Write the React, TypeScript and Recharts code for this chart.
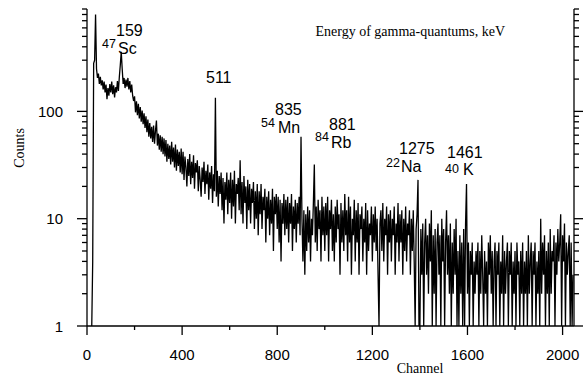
import React from 'react'
import { LineChart, Line, XAxis, YAxis } from 'recharts'

// gamma spectrum, counts every 4 channels
const STEP = 4
const START_A = 20
const COUNTS_A = [
  1, 4, 280, 300, 800, 250, 205, 225, 180, 210,
  175, 195, 160, 190, 150, 178, 130, 165, 140, 180,
  150, 190, 145, 175, 135, 168, 150, 192, 155, 210,
  270, 360, 250, 180, 205, 165, 198, 170, 205, 160,
  192, 150, 178, 140, 125,
]
const START_B = 200
const COUNTS_B = [
  138, 98, 124, 92, 118, 86, 110, 80, 102, 76,
  96, 70, 90, 64, 84, 58, 78, 56, 72, 52,
  74, 50, 66, 82, 48, 62, 44, 60, 42, 58,
  40, 56, 38, 54, 34, 50, 36, 48, 32, 52,
  34, 46, 30, 49, 28, 44, 31, 42, 27, 45,
]
const START_C = 400
const COUNTS_C = [
  26, 42, 23, 38, 30, 20, 36, 25, 40, 21,
  34, 24, 39, 19, 33, 27, 35, 18, 31, 23,
  16, 30, 22, 34, 17, 28, 21, 32, 15, 27,
  19, 31, 14, 26, 18, 134, 16, 28, 13, 25,
  17, 27, 12, 24, 9, 22, 15, 27, 11, 23,
]
const START_D = 600
const COUNTS_D = [
  14, 27, 10, 23, 13, 28, 9, 21, 17, 24,
  12, 35, 11, 22, 9, 25, 14, 20, 8, 23,
  12, 21, 9, 19, 14, 22, 8, 18, 10, 21,
  7, 18, 11, 21, 8, 16, 12, 19, 6, 16,
  10, 18, 7, 15, 9, 19, 5, 16, 11, 17,
]
const START_E = 800
const COUNTS_E = [
  8, 16, 6, 15, 4, 14, 9, 17, 7, 15,
  8, 16, 6, 14, 9, 17, 5, 13, 8, 15,
  6, 14, 9, 16, 7, 58, 10, 4, 12, 3,
  11, 5, 13, 6, 12, 4, 10, 7, 14, 32,
  6, 13, 5, 15, 8, 12, 4, 16, 7, 13,
]
const START_F = 1000
const COUNTS_F = [
  5, 14, 7, 16, 4, 12, 8, 15, 5, 11,
  4, 13, 6, 15, 8, 11, 3, 14, 6, 12,
  5, 17, 7, 12, 4, 16, 6, 13, 3, 10,
  7, 15, 4, 12, 6, 14, 3, 11, 8, 13,
  4, 10, 6, 14, 3, 12, 5, 9, 7, 13,
]
const START_G = 1200
const COUNTS_G = [
  4, 11, 6, 13, 5, 10, 3, 1, 9, 12,
  5, 14, 4, 10, 7, 13, 3, 11, 6, 12,
  4, 10, 7, 13, 3, 9, 6, 14, 4, 11,
  6, 12, 3, 10, 5, 13, 4, 9, 7, 12,
  3, 10, 5, 12, 4, 1, 8, 11, 23, 1,
]
const START_H = 1400
const COUNTS_H = [
  1, 8, 3, 9, 1, 6, 10, 3, 7, 2,
  9, 4, 12, 1, 7, 2, 8, 1, 6, 9,
  3, 7, 1, 10, 4, 8, 1, 6, 12, 3,
  7, 2, 9, 1, 6, 2, 8, 3, 10, 1,
  5, 1, 7, 2, 6, 1, 8, 1, 9, 21,
]
const START_I = 1600
const COUNTS_I = [
  2, 6, 1, 5, 3, 6, 1, 4, 2, 5,
  3, 6, 1, 5, 2, 7, 3, 1, 5, 2,
  4, 1, 6, 3, 7, 2, 5, 1, 4, 6,
  1, 5, 3, 6, 1, 4, 2, 7, 1, 5,
  2, 4, 6, 1, 5, 3, 6, 1, 4, 2,
]
const START_J = 1800
const COUNTS_J = [
  5, 1, 6, 3, 4, 1, 5, 2, 6, 1,
  4, 2, 5, 1, 7, 2, 4, 6, 1, 5,
  3, 6, 1, 4, 2, 5, 1, 10, 2, 6,
  3, 7, 1, 5, 2, 6, 1, 8, 2, 5,
  4, 7, 1, 6, 3, 8, 4, 6, 11, 1,
  7, 4, 9, 1, 6, 3, 5, 7, 1, 6, 1, 3,
]

const X_TICKS = [0, 200, 400, 600, 800, 1000, 1200, 1400, 1600, 1800, 2000]
const Y_TICKS = [
  1, 2, 3, 4, 5, 6, 7, 8, 9, 10, 20, 30, 40, 50, 60, 70, 80, 90,
  100, 200, 300, 400, 500, 600, 700, 800, 900,
]
const Y_LABELED = [1, 10, 100]

const segments: [number, number[]][] = [
  [START_A, COUNTS_A], [START_B, COUNTS_B], [START_C, COUNTS_C], [START_D, COUNTS_D],
  [START_E, COUNTS_E], [START_F, COUNTS_F], [START_G, COUNTS_G], [START_H, COUNTS_H],
  [START_I, COUNTS_I], [START_J, COUNTS_J],
]
const data = segments.flatMap(([start, arr]) =>
  arr.map((c, i) => ({ ch: start + i * STEP, counts: c }))
)

const SANS = '"Liberation Sans", Arial, sans-serif'
const SERIF = '"Liberation Serif", "Times New Roman", serif'

const LeftTick = (props: any) => {
  const { x, y, payload } = props
  const major = Y_LABELED.includes(payload.value)
  return (
    <g>
      <line x1={x - (major ? 10 : 5)} x2={x} y1={y} y2={y} stroke="#000" strokeWidth={1.3} />
      {major && (
        <text x={x - 24} y={y + 5.5} textAnchor="end" fontSize={15} fontFamily={SANS} fill="#000">
          {payload.value}
        </text>
      )}
    </g>
  )
}

const RightTick = (props: any) => {
  const { x, y, payload } = props
  const major = Y_LABELED.includes(payload.value)
  return <line x1={x} x2={x + (major ? 9 : 5)} y1={y} y2={y} stroke="#000" strokeWidth={1.3} />
}

const BottomTick = (props: any) => {
  const { x, y, payload } = props
  const major = payload.value % 400 === 0
  return (
    <g>
      <line x1={x} x2={x} y1={y} y2={y + (major ? 9 : 4)} stroke="#000" strokeWidth={1.3} />
      {major && (
        <text x={x} y={y + 34} textAnchor="middle" fontSize={15} fontFamily={SANS} fill="#000">
          {payload.value}
        </text>
      )}
    </g>
  )
}

// peak labels: [energy, isotope mass, element, energy x, energy baseline, mass x, mass baseline, element x, element baseline]
const PEAK_LABELS: [string, string, string, number, number, number, number, number, number][] = [
  ['159', '47', 'Sc', 116, 36, 102, 48, 118, 54],
  ['511', '', '', 206, 83, 0, 0, 0, 0],
  ['835', '54', 'Mn', 275, 115, 261, 127, 278, 133],
  ['881', '84', 'Rb', 329, 130, 315, 141, 331, 148],
  ['1275', '22', 'Na', 399, 154, 386, 167, 401, 172],
  ['1461', '40', 'K', 447, 158, 445, 173, 463, 175],
]

export default function App() {
  return (
    <div style={{ position: 'absolute', left: 0, top: 0, width: 584, height: 379, background: '#fff' }}>
      <LineChart width={584} height={379} data={data} margin={{ top: 9, right: 0, bottom: 0, left: 0 }}>
        <XAxis
          dataKey="ch"
          type="number"
          domain={[0, 2048]}
          ticks={X_TICKS}
          interval={0}
          tick={<BottomTick />}
          tickLine={false}
          tickSize={0}
          tickMargin={0}
          height={53}
          axisLine={{ stroke: '#000', strokeWidth: 1.3 }}
        />
        <XAxis
          xAxisId="top"
          orientation="top"
          dataKey="ch"
          type="number"
          domain={[0, 2048]}
          tick={false}
          tickLine={false}
          height={0}
          axisLine={{ stroke: '#000', strokeWidth: 1.3 }}
        />
        <YAxis
          yAxisId="left"
          scale="log"
          domain={[1, 900]}
          allowDataOverflow
          ticks={Y_TICKS}
          interval={0}
          tick={<LeftTick />}
          tickLine={false}
          tickSize={0}
          tickMargin={0}
          width={87}
          axisLine={{ stroke: '#000', strokeWidth: 1.3 }}
        />
        <YAxis
          yAxisId="right"
          orientation="right"
          scale="log"
          domain={[1, 900]}
          allowDataOverflow
          ticks={Y_TICKS}
          interval={0}
          tick={<RightTick />}
          tickLine={false}
          tickSize={0}
          tickMargin={0}
          width={10}
          axisLine={{ stroke: '#000', strokeWidth: 1.3 }}
        />
        <Line
          yAxisId="left"
          dataKey="counts"
          type="linear"
          stroke="#000"
          strokeWidth={1.3}
          dot={false}
          isAnimationActive={false}
        />
      </LineChart>
      <svg width={584} height={379} style={{ position: 'absolute', left: 0, top: 0, pointerEvents: 'none' }}>
        <text x={505} y={36} textAnchor="end" fontSize={14} fontFamily={SERIF} fill="#000">
          Energy of gamma-quantums, keV
        </text>
        <text x={420} y={373} textAnchor="middle" fontSize={14} fontFamily={SERIF} fill="#000">
          Channel
        </text>
        <text
          x={24}
          y={148}
          textAnchor="middle"
          fontSize={14}
          fontFamily={SERIF}
          fill="#000"
          transform="rotate(-90 24 148)"
        >
          Counts
        </text>
        {PEAK_LABELS.map(([e, mass, el, ex, ey, mx, my, lx, ly]) => (
          <g key={e} fontFamily={SANS} fill="#000">
            <text x={ex} y={ey} fontSize={16}>{e}</text>
            {mass && <text x={mx} y={my} fontSize={12.5}>{mass}</text>}
            {el && <text x={lx} y={ly} fontSize={16}>{el}</text>}
          </g>
        ))}
      </svg>
    </div>
  )
}
